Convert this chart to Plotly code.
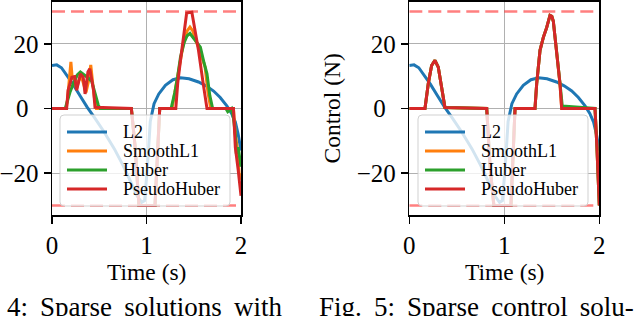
import plotly.graph_objects as go

# ---------------- data ----------------
series_names = ["L2", "SmoothL1", "Huber", "PseudoHuber"]
series_colors = ["#1f77b4", "#ff7f0e", "#2ca02c", "#d62728"]

control_bounds = [-30, 30]
time_limits = [0, 2]

# L2 solution (same in both panels)
l2_t = [0.00, 0.05, 0.10, 0.16, 0.22, 0.30, 0.37, 0.45, 0.55, 0.66, 0.75, 0.83, 0.90, 0.95,
        0.98, 1.01, 1.04, 1.08, 1.13, 1.20, 1.28, 1.36, 1.45, 1.55, 1.63, 1.71, 1.78, 1.85,
        1.90, 1.94, 1.97, 2.00]
l2_u = [13.3, 13.5, 12.6, 10.2, 7.6, 3.8, 0.5, -2.8, -7.2, -12.5, -17.5, -22.5, -27.0, -29.0,
        -28.5, -18.0, -4.0, 1.5, 4.5, 7.2, 8.9, 9.5, 9.2, 8.2, 7.0, 5.4, 3.4, 0.8,
        -1.5, -4.2, -8.0, -13.0]

# Left panel (Fig. 4)
left_smoothl1_t = [0, 0.15, 0.165, 0.18, 0.20, 0.215, 0.24, 0.26, 0.28, 0.31, 0.34, 0.36, 0.39,
                   0.41, 0.43, 0.45, 0.47, 0.84, 0.88, 0.92, 1.09, 1.14, 1.27, 1.29, 1.31, 1.34,
                   1.39, 1.43, 1.46, 1.49, 1.52, 1.55, 1.59, 1.62, 1.65, 1.68, 1.92, 1.94, 1.96,
                   1.98, 2.00]
left_smoothl1_u = [0, 0, 3, 7, 14.4, 9, 10, 6, 8.5, 10, 7, 5, 9,
                   13.5, 8, 3, 0, 0, -12, -30, -30, 0, 0, 3.5, 7, 12,
                   20, 24, 25.2, 24, 21, 19, 15, 12.8, 5, 0, 0, -8, -12,
                   -20, -22]

left_huber_t = [0, 0.14, 0.16, 0.19, 0.23, 0.27, 0.30, 0.34, 0.38, 0.42, 0.46, 0.49, 0.51,
                0.84, 0.88, 0.92, 1.09, 1.14, 1.26, 1.28, 1.30, 1.33, 1.36, 1.40, 1.43, 1.46,
                1.49, 1.53, 1.57, 1.61, 1.64, 1.67, 1.70, 1.84, 1.86, 1.90, 1.92, 1.94, 1.95,
                1.97, 2.00]
left_huber_u = [0, 0, 2, 5, 8, 10.5, 11.3, 10.5, 9.5, 8.5, 4, 1, 0,
                0, -12, -30, -30, 0, 0, 2.5, 5, 10, 16, 20.5, 22.5, 23.2,
                22, 20.5, 19, 14, 10.7, 4, 0, 0, -1, 0, -3, -8, -14,
                -12, -18]

left_pseudo_t = [0, 0.155, 0.17, 0.19, 0.21, 0.24, 0.26, 0.28, 0.30, 0.33, 0.35, 0.38, 0.40,
                 0.42, 0.44, 0.455, 0.84, 0.88, 0.92, 1.09, 1.14, 1.31, 1.33, 1.36, 1.39,
                 1.425, 1.48, 1.495, 1.52, 1.55, 1.60, 1.64, 1.92, 1.94, 1.97, 2.00]
left_pseudo_u = [0, 0, 5.6, 7.7, 9.7, 9.9, 5.6, 8, 10.7, 9.7, 4.5, 11.3, 12.3,
                 9, 5.6, 0.4, 0, -12, -30, -30, 0, 0, 7.7, 15, 22,
                 29.5, 29.8, 27.3, 23, 18, 7.7, 0, 0, -12, -19, -27]

# Right panel (Fig. 5)
right_smoothl1_t = [0, 0.165, 0.20, 0.235, 0.27, 0.305, 0.34, 0.375, 0.815, 0.85, 0.89, 1.07,
                    1.113, 1.323, 1.341, 1.376, 1.411, 1.446, 1.481, 1.50, 1.516, 1.552, 1.586,
                    1.604, 1.955, 1.975, 1.99, 2.00]
right_smoothl1_u = [0, 0, 7.7, 13.3, 14.9, 12.8, 6.6, 0.3, 0, -18, -30, -30,
                    0, 0, 7.7, 18, 22, 25, 28.8, 28.5, 27, 18, 7.7,
                    0, 0, -12, -24, -30]

right_huber_t = [0, 0.165, 0.20, 0.235, 0.27, 0.305, 0.34, 0.375, 0.815, 0.85, 0.89, 1.07,
                 1.113, 1.323, 1.341, 1.376, 1.411, 1.446, 1.481, 1.50, 1.516, 1.552, 1.586,
                 1.61, 1.955, 1.975, 1.99, 2.00]
right_huber_u = [0, 0, 7.7, 13.3, 14.9, 12.8, 6.6, 0.3, 0, -18, -30, -30,
                 0, 0, 7.7, 18, 22, 25, 28.8, 28.5, 27, 18, 7.9,
                 0.8, 0, -12, -24, -30]

right_pseudo_t = [0, 0.165, 0.20, 0.235, 0.27, 0.305, 0.34, 0.375, 0.815, 0.85, 0.89, 1.07,
                  1.113, 1.323, 1.341, 1.376, 1.411, 1.446, 1.481, 1.50, 1.516, 1.552, 1.586,
                  1.604, 1.955, 1.975, 1.99, 2.00]
right_pseudo_u = [0, 0, 7.7, 13.3, 14.9, 12.8, 6.6, 0.3, 0, -18, -30, -30,
                  0, 0, 7.7, 18, 22, 25, 28.8, 28.5, 27, 18, 7.7,
                  0, 0, -12, -24, -30]

y_tick_vals = [-20, 0, 20]
y_tick_text = ["\u221220", "0\u2009\u2009", "20"]
x_tick_vals = [0, 1, 2]
x_tick_text = ["0", "1", "2"]

x_label = "Time (s)"
y_label = "Control (N)"
# justified caption lines (slightly widened spaces)
captions = ["Fig. \u20094: \u2009Sparse \u2009solutions \u2009with",
            "Fig. \u20095: \u2009Sparse \u2009control \u2009solu-"]

# ---------------- figure ----------------
W, H = 640, 316
FONT = "Liberation Serif"


def px2x(p):
    return p / W


def px2y(p):
    return 1 - p / H


fig = go.Figure()

panels = [
    ("x", "y", [(l2_t, l2_u), (left_smoothl1_t, left_smoothl1_u),
                (left_huber_t, left_huber_u), (left_pseudo_t, left_pseudo_u)]),
    ("x2", "y2", [(l2_t, l2_u), (right_smoothl1_t, right_smoothl1_u),
                  (right_huber_t, right_huber_u), (right_pseudo_t, right_pseudo_u)]),
]

for xa, ya, data in panels:
    for b in control_bounds:
        fig.add_trace(go.Scatter(
            x=time_limits, y=[b, b], mode="lines", xaxis=xa, yaxis=ya,
            line=dict(color="rgba(255,0,0,0.5)", width=2.5, dash="13px,6px"),
            showlegend=False, hoverinfo="skip"))
    for (t, u), name, col in zip(data, series_names, series_colors):
        fig.add_trace(go.Scatter(
            x=t, y=u, mode="lines", name=name, xaxis=xa, yaxis=ya, showlegend=False,
            line=dict(color=col, width=3)))

axis_common = dict(
    showline=True, linecolor="black", linewidth=1.5, mirror=True, automargin=False,
    ticks="outside", ticklen=7, tickwidth=1.5, tickcolor="black",
    showgrid=True, gridcolor="#b0b0b0", gridwidth=1.2, zeroline=False,
    tickfont=dict(family=FONT, size=25, color="black"),
)

ydom = [px2y(215.2), px2y(1.8)]
fig.update_layout(
    width=W, height=H, margin=dict(l=0, r=0, t=0, b=0, autoexpand=False),
    paper_bgcolor="white", plot_bgcolor="white",
    font=dict(family=FONT, color="black"),
    showlegend=False,
    xaxis=dict(domain=[px2x(52), px2x(241)], range=time_limits, tickvals=x_tick_vals,
               ticktext=x_tick_text, anchor="y", **axis_common),
    yaxis=dict(domain=ydom, range=[-33, 33], tickvals=y_tick_vals, ticktext=y_tick_text,
               anchor="x", **axis_common),
    xaxis2=dict(domain=[px2x(409.3), px2x(599.3)], range=time_limits, tickvals=x_tick_vals,
                ticktext=x_tick_text, anchor="y2", **axis_common),
    yaxis2=dict(domain=ydom, range=[-33, 33], tickvals=y_tick_vals, ticktext=y_tick_text,
                anchor="x2", **axis_common),
)

annotations = [
    dict(text=x_label, x=px2x(146.5), y=px2y(271.5), xanchor="center", yanchor="middle",
         font=dict(size=23.5)),
    dict(text=x_label, x=px2x(504.3), y=px2y(271.5), xanchor="center", yanchor="middle",
         font=dict(size=23.5)),
    dict(text=y_label, x=px2x(331), y=px2y(108.5), xanchor="center", yanchor="middle",
         textangle=-90, font=dict(size=23.5)),
    dict(text=captions[0], x=px2x(284), y=px2y(307), xanchor="right",
         yanchor="middle", font=dict(size=27)),
    dict(text=captions[1], x=px2x(317), y=px2y(307), xanchor="left",
         yanchor="middle", font=dict(size=27)),
]

# hand-drawn legends (matplotlib-style: compact rows, rounded translucent frame)
shapes = []
legend_boxes = [(60, 230), (418, 588)]
box_top, box_bot, rad = 115, 206, 4
row_y = [132, 151, 170, 189]
for x0, x1 in legend_boxes:
    p = (f"M {px2x(x0 + rad)},{px2y(box_top)} L {px2x(x1 - rad)},{px2y(box_top)} "
         f"Q {px2x(x1)},{px2y(box_top)} {px2x(x1)},{px2y(box_top + rad)} "
         f"L {px2x(x1)},{px2y(box_bot - rad)} "
         f"Q {px2x(x1)},{px2y(box_bot)} {px2x(x1 - rad)},{px2y(box_bot)} "
         f"L {px2x(x0 + rad)},{px2y(box_bot)} "
         f"Q {px2x(x0)},{px2y(box_bot)} {px2x(x0)},{px2y(box_bot - rad)} "
         f"L {px2x(x0)},{px2y(box_top + rad)} "
         f"Q {px2x(x0)},{px2y(box_top)} {px2x(x0 + rad)},{px2y(box_top)} Z")
    shapes.append(dict(type="path", path=p, xref="paper", yref="paper", layer="above",
                       fillcolor="rgba(255,255,255,0.8)",
                       line=dict(color="rgba(204,204,204,0.9)", width=1)))
    for ry, name, col in zip(row_y, series_names, series_colors):
        shapes.append(dict(type="line", xref="paper", yref="paper", layer="above",
                           x0=px2x(x0 + 7), x1=px2x(x0 + 47), y0=px2y(ry), y1=px2y(ry),
                           line=dict(color=col, width=3)))
        annotations.append(dict(text=name, x=px2x(x0 + 61), y=px2y(ry), xanchor="left",
                                yanchor="middle", font=dict(size=18)))

for a in annotations:
    a.update(xref="paper", yref="paper", showarrow=False)
    a["font"].update(family=FONT, color="black")
fig.update_layout(annotations=annotations, shapes=shapes)

# the page's default 8px body margin would offset the figure inside the window
fig.write_html("out.html",
               config={"displayModeBar": False, "staticPlot": True},
               post_script="document.body.style.margin='0px';"
                           "document.body.style.overflow='hidden';")
